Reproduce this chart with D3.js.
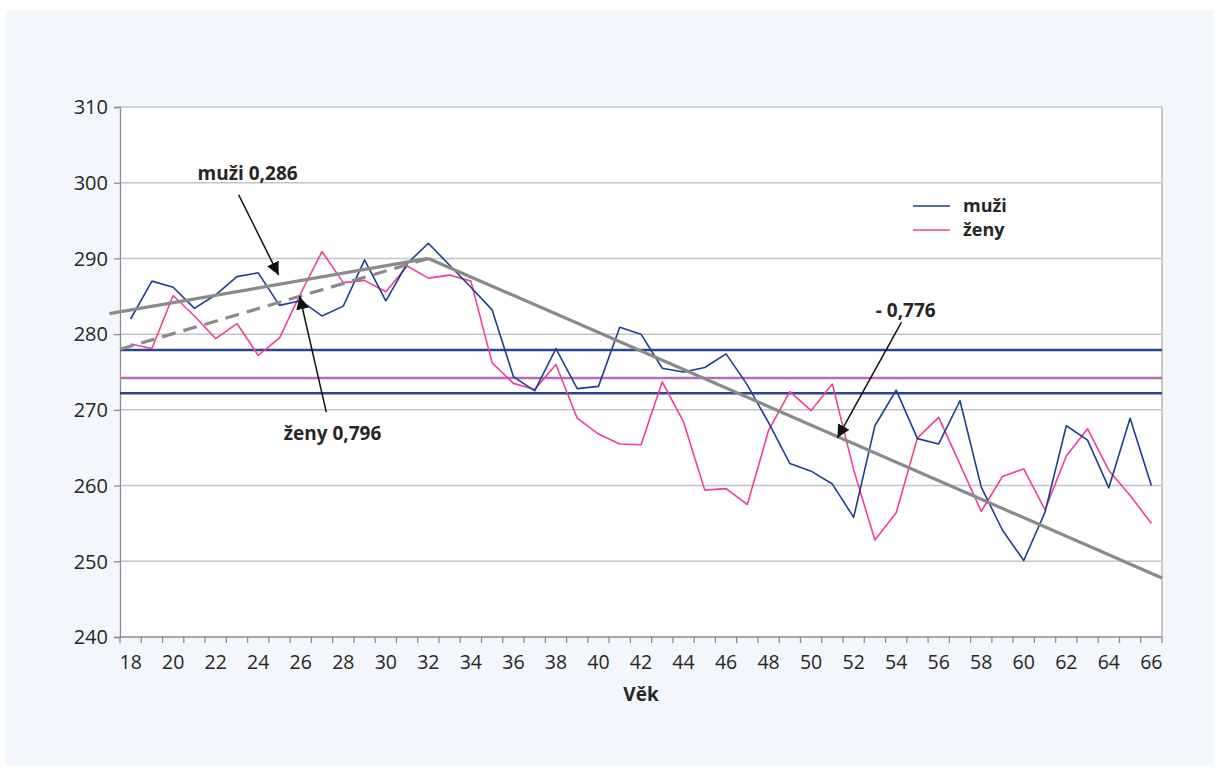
<!DOCTYPE html>
<html>
<head>
<meta charset="utf-8">
<script src="https://cdn.jsdelivr.net/npm/d3@7"></script>
<style>
  html, body { margin: 0; padding: 0; background: #ffffff; }
  svg text { font-family: "Open Sans", "Noto Sans", sans-serif; fill: #262626; }
</style>
</head>
<body>
<svg id="chart" width="1218" height="769"></svg>
<script>
// ---------- data ----------
const ages = d3.range(18, 67);
const yTicks = [240, 250, 260, 270, 280, 290, 300, 310];
const xTickLabels = d3.range(18, 67, 2);
const muzi = [282.0, 287.0, 286.2, 283.4, 285.2, 287.6, 288.1, 283.8, 284.4, 282.4,
              283.7, 289.8, 284.4, 289.3, 292.0, 289.1, 286.2, 283.2, 274.4, 272.5,
              278.1, 272.8, 273.1, 280.9, 280.0, 275.5, 275.0, 275.6, 277.4, 273.3,
              268.3, 262.9, 261.9, 260.2, 255.8, 267.9, 272.6, 266.2, 265.5, 271.2,
              259.8, 254.1, 250.1, 256.5, 267.9, 266.0, 259.7, 268.9, 260.0];
const zeny = [278.7, 278.1, 285.1, 282.4, 279.4, 281.4, 277.2, 279.5, 285.4, 290.9,
              286.8, 287.1, 285.6, 289.0, 287.4, 287.8, 287.0, 276.2, 273.5, 272.7,
              276.0, 268.9, 266.8, 265.5, 265.4, 273.7, 268.4, 259.4, 259.6, 257.5,
              267.3, 272.4, 269.9, 273.4, 262.1, 252.8, 256.4, 266.3, 269.0, 262.8,
              256.6, 261.2, 262.2, 256.8, 263.9, 267.5, 262.0, 258.7, 255.0];
const seriesNames = ["muži", "ženy"];
const refLevels = [277.9, 274.2, 272.2];
const refKinds = ["muzi", "zeny", "muzi"];
// trend segments: [age, value] pairs
const trendMuzi = [[17.0, 282.7], [32, 290.0]];
const trendZeny = [[17.5, 278.0], [32, 290.0]];
const trendDown = [[32, 290.0], [66.5, 247.8]];
// annotations: label, label anchor [age, value], arrow from, arrow to
const annLabels = ["muži 0,286", "ženy 0,796", "- 0,776"];
const annLabelPos = [[21.15, 300.4], [25.2, 266.0], [53.04, 282.3]];
const annArrowFrom = [[23.08, 298.4], [27.2, 269.7], [54.25, 281.6]];
const annArrowTo = [[24.96, 287.8], [25.95, 285.0], [51.24, 266.3]];
const xTitle = "Věk";

// ---------- style ----------
const colors = { muzi: "#1f3d93", zeny: "#ef3f98", refMuzi: "#2a4590", refZeny: "#b46db6", trend: "#8a8a8a", grid: "#c3c3c3", axis: "#8c8c8c" };

const svg = d3.select("#chart");
const margin = { left: 120, top: 107, right: 56, bottom: 132 };
const W = 1218 - margin.left - margin.right;
const H = 769 - margin.top - margin.bottom;

// panel background
svg.append("rect").attr("x", 6).attr("y", 10).attr("width", 1207).attr("height", 755).attr("fill", "#f3f7fb");

const g = svg.append("g").attr("transform", `translate(${margin.left},${margin.top})`);
g.append("rect").attr("width", W).attr("height", H).attr("fill", "#ffffff");

const x = d3.scaleBand().domain(ages).range([0, W]).paddingInner(0).paddingOuter(0);
const xc = d => x(d) + x.bandwidth() / 2;
const xLin = d3.scaleLinear().domain([ages[0] - 0.5, ages[ages.length - 1] + 0.5]).range([0, W]);
const y = d3.scaleLinear().domain([240, 310]).range([H, 0]);

// gridlines
g.append("g").selectAll("line").data(yTicks.filter(t => t > 240)).join("line")
  .attr("x1", 0).attr("x2", W).attr("y1", d => y(d)).attr("y2", d => y(d))
  .attr("stroke", colors.grid).attr("stroke-width", 1.5);

// right border
g.append("line").attr("x1", W).attr("x2", W).attr("y1", 0).attr("y2", H).attr("stroke", "#c6c6c6").attr("stroke-width", 2);

// y axis
const yAxis = g.append("g").call(d3.axisLeft(y).tickValues(yTicks).tickSize(6).tickPadding(6).tickFormat(d3.format("d")));
yAxis.select(".domain").attr("stroke", colors.axis).attr("stroke-width", 1.3);
yAxis.selectAll(".tick line").attr("stroke", colors.axis).attr("stroke-width", 1.3);
yAxis.selectAll("text").attr("font-size", 20).attr("font-family", "Open Sans").attr("fill", "#262626").attr("dy", "0.34em");

// x axis
const xAxisG = g.append("g").attr("transform", `translate(0,${H})`);
xAxisG.append("line").attr("x1", 0).attr("x2", W).attr("stroke", colors.axis).attr("stroke-width", 1.3);
xAxisG.selectAll("line.tk").data(d3.range(ages.length + 1)).join("line").attr("class", "tk")
  .attr("x1", i => i * x.step()).attr("x2", i => i * x.step()).attr("y1", 0).attr("y2", 6)
  .attr("stroke", colors.axis).attr("stroke-width", 1.3);
xAxisG.selectAll("text").data(xTickLabels).join("text")
  .attr("x", d => xc(d)).attr("y", 32).attr("text-anchor", "middle")
  .attr("font-size", 19.5).text(d => d);

g.append("text").attr("x", W / 2).attr("y", H + 64).attr("text-anchor", "middle")
  .attr("font-size", 19).attr("font-weight", "bold").text(xTitle);

// reference lines
g.append("g").selectAll("line").data(refLevels).join("line")
  .attr("x1", 0).attr("x2", W).attr("y1", d => y(d)).attr("y2", d => y(d))
  .attr("stroke", (d, i) => refKinds[i] === "muzi" ? colors.refMuzi : colors.refZeny)
  .attr("stroke-width", 2.6);

// series lines
const line = d3.line().x((d, i) => xc(ages[i])).y(d => y(d));
g.append("path").datum(zeny).attr("d", line).attr("fill", "none").attr("stroke", colors.zeny).attr("stroke-width", 1.6).attr("stroke-linejoin", "round");
g.append("path").datum(muzi).attr("d", line).attr("fill", "none").attr("stroke", colors.muzi).attr("stroke-width", 1.6).attr("stroke-linejoin", "round");

// trend lines
const tline = d3.line().x(d => xLin(d[0])).y(d => y(d[1]));
g.append("path").datum(trendZeny).attr("d", tline).attr("fill", "none").attr("stroke", colors.trend).attr("stroke-width", 3.2).attr("stroke-dasharray", "14,8");
g.append("path").datum(trendMuzi).attr("d", tline).attr("fill", "none").attr("stroke", colors.trend).attr("stroke-width", 3.2);
g.append("path").datum(trendDown).attr("d", tline).attr("fill", "none").attr("stroke", colors.trend).attr("stroke-width", 3.2);

// arrows
svg.append("defs").append("marker").attr("id", "ah").attr("viewBox", "0 0 10 10")
  .attr("refX", 10).attr("refY", 5).attr("markerWidth", 13).attr("markerHeight", 13)
  .attr("markerUnits", "userSpaceOnUse").attr("orient", "auto")
  .append("path").attr("d", "M0,0 L10,5 L0,10 z").attr("fill", "#111");
const arrowG = g.append("g");
annArrowFrom.forEach((f, i) => {
  const t = annArrowTo[i];
  arrowG.append("line").attr("x1", xLin(f[0])).attr("y1", y(f[1])).attr("x2", xLin(t[0])).attr("y2", y(t[1]))
    .attr("stroke", "#111").attr("stroke-width", 1.5).attr("marker-end", "url(#ah)");
});
annLabels.forEach((s, i) => {
  g.append("text").attr("x", xLin(annLabelPos[i][0])).attr("y", y(annLabelPos[i][1]))
    .attr("font-size", 19).attr("font-weight", "bold").text(s);
});

// legend
const leg = svg.append("g").attr("transform", "translate(913,206)");
seriesNames.forEach((n, i) => {
  leg.append("line").attr("x1", 0).attr("x2", 37).attr("y1", i * 24).attr("y2", i * 24)
    .attr("stroke", i === 0 ? colors.muzi : colors.zeny).attr("stroke-width", 1.6);
  leg.append("text").attr("x", 50).attr("y", i * 24 + 6).attr("font-size", 18).attr("font-weight", "bold").text(n);
});
</script>
</body>
</html>
